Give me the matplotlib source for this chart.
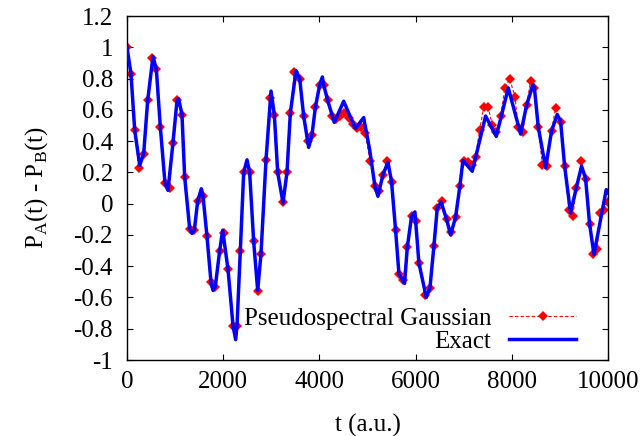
import numpy as np
import matplotlib
matplotlib.use("Agg")
import matplotlib.pyplot as plt
from matplotlib.ticker import FixedLocator, FixedFormatter

# ---- data ----
pseudo_t = [0, 83, 160, 243, 347, 430, 520, 610, 693, 790, 887, 956, 1040, 1143, 1199,
            1303, 1400, 1469, 1580, 1663, 1746, 1836, 1927, 2010, 2100, 2204, 2287, 2356,
            2426, 2550, 2633, 2717, 2786, 2890, 2980, 3063, 3133, 3236, 3326, 3396, 3479,
            3590, 3673, 3756, 3846, 3916, 4006, 4089, 4172, 4262, 4352, 4435, 4518, 4608,
            4698, 4782, 4865, 4955, 5050, 5155, 5238, 5321, 5411, 5500, 5584, 5654, 5744,
            5827, 5917, 6000, 6069, 6194, 6298, 6381, 6450, 6554, 6644, 6728, 6832, 6922,
            7005, 7095, 7170, 7248, 7330, 7420, 7511, 7594, 7680, 7767, 7857, 7954, 8065,
            8134, 8231, 8308, 8391, 8470, 8550, 8634, 8738, 8827, 8911, 9015, 9098, 9188,
            9271, 9340, 9444, 9534, 9617, 9694, 9777, 9840, 9910, 10000]
pseudo_p = [1.00, 0.83, 0.47, 0.23, 0.32, 0.66, 0.93, 0.86, 0.49, 0.13, 0.10, 0.39, 0.66,
            0.57, 0.17, -0.16, -0.17, 0.015, 0.05, -0.21, -0.50, -0.53, -0.30, -0.19, -0.42,
            -0.78, -0.78, -0.30, 0.20, 0.20, -0.24, -0.56, -0.32, 0.28, 0.675, 0.57, 0.20,
            0.01, 0.20, 0.58, 0.84, 0.80, 0.56, 0.40, 0.44, 0.615, 0.76, 0.76, 0.66, 0.56,
            0.54, 0.56, 0.58, 0.55, 0.51, 0.485, 0.49, 0.45, 0.275, 0.11, 0.08, 0.185, 0.27,
            0.14, -0.17, -0.45, -0.49, -0.28, -0.08, -0.11, -0.38, -0.585, -0.54, -0.27,
            -0.03, 0.015, -0.10, -0.18, -0.085, 0.115, 0.27, 0.265, 0.25, 0.30, 0.47, 0.62,
            0.615, 0.50, 0.46, 0.56, 0.74, 0.80, 0.685, 0.49, 0.46, 0.63, 0.785, 0.74, 0.49,
            0.25, 0.24, 0.465, 0.61, 0.525, 0.24, -0.04, -0.08, 0.10, 0.27, 0.16, -0.13,
            -0.32, -0.29, -0.06, -0.04, 0.01]

exact_t = [0, 83, 160, 265, 347, 430, 540, 610, 693, 790, 852, 956, 1040, 1074, 1143, 1199,
           1303, 1351, 1400, 1469, 1545, 1580, 1663, 1746, 1788, 1836, 1927, 1989, 2100,
           2204, 2259, 2287, 2356, 2426, 2495, 2550, 2633, 2717, 2786, 2890, 2994, 3063,
           3133, 3243, 3326, 3396, 3514, 3590, 3673, 3777, 3846, 3916, 4006, 4061, 4089,
           4172, 4310, 4505, 4747, 4920, 5045, 5155, 5217, 5321, 5425, 5500, 5584, 5654,
           5771, 5827, 5917, 5986, 6069, 6222, 6298, 6381, 6450, 6530, 6644, 6728, 6832,
           6922, 6984, 7178, 7455, 7677, 7927, 8183, 8308, 8440, 8470, 8550, 8703, 8827,
           8945, 9015, 9098, 9222, 9340, 9451, 9534, 9617, 9708, 9964, 10000]
exact_p = [1.00, 0.83, 0.47, 0.245, 0.32, 0.66, 0.94, 0.86, 0.49, 0.13, 0.085, 0.39, 0.66,
           0.67, 0.57, 0.17, -0.16, -0.19, -0.17, 0.015, 0.095, 0.05, -0.21, -0.50, -0.555,
           -0.53, -0.30, -0.17, -0.42, -0.78, -0.87, -0.78, -0.30, 0.20, 0.28, 0.20, -0.24,
           -0.555, -0.32, 0.28, 0.72, 0.57, 0.20, 0.005, 0.20, 0.58, 0.85, 0.80, 0.56, 0.36,
           0.44, 0.615, 0.76, 0.81, 0.76, 0.66, 0.52, 0.655, 0.48, 0.55, 0.345, 0.11, 0.047,
           0.185, 0.265, 0.14, -0.17, -0.45, -0.51, -0.28, -0.08, -0.053, -0.38, -0.60,
           -0.54, -0.27, -0.03, 0.01, -0.10, -0.20, -0.085, 0.115, 0.277, 0.207, 0.56, 0.43,
           0.74, 0.445, 0.63, 0.76, 0.74, 0.49, 0.23, 0.465, 0.57, 0.525, 0.24, -0.06, 0.10,
           0.24, 0.16, -0.13, -0.325, 0.09, 0.07]

x_ticks = [0, 2000, 4000, 6000, 8000, 10000]
x_ticklabels = ["0", "2000", "4000", "6000", "8000", "10000"]
y_ticks = [-1.0, -0.8, -0.6, -0.4, -0.2, 0.0, 0.2, 0.4, 0.6, 0.8, 1.0, 1.2]
y_ticklabels = ["-1", "-0.8", "-0.6", "-0.4", "-0.2", "0", "0.2", "0.4", "0.6", "0.8", "1", "1.2"]

label_pseudo = "Pseudospectral Gaussian"
label_exact = "Exact"

# ---- style ----
plt.rcParams["font.family"] = ["Liberation Serif", "DejaVu Serif"]
plt.rcParams["mathtext.fontset"] = "custom"
plt.rcParams["mathtext.rm"] = "Liberation Serif"
plt.rcParams["axes.unicode_minus"] = False
FS = 18

fig = plt.figure(figsize=(6.44, 4.36), dpi=100)
ax = fig.add_axes([127 / 644, 1 - 360 / 436, 481 / 644, 344 / 436])

ax.plot(pseudo_t, pseudo_p, color="#ff0000", linestyle=(0, (3, 2)), linewidth=0.8,
        marker="D", markersize=5.3, markeredgewidth=0, label=label_pseudo, zorder=2)
ax.plot(exact_t, exact_p, color="#0000ff", linewidth=2.5, label=label_exact, zorder=3)

ax.set_xlim(0, 10000)
ax.set_ylim(-1, 1.2)
ax.xaxis.set_major_locator(FixedLocator(x_ticks))
ax.xaxis.set_major_formatter(FixedFormatter(x_ticklabels))
ax.yaxis.set_major_locator(FixedLocator(y_ticks))
ax.yaxis.set_major_formatter(FixedFormatter(y_ticklabels))
ax.tick_params(direction="in", length=4.5, width=0.8, top=True, right=True, labelsize=FS)
ax.tick_params(axis="x", pad=8)
ax.tick_params(axis="y", pad=10)
for s in ax.spines.values():
    s.set_linewidth(1.0)

ax.set_xlabel("t (a.u.)", fontsize=FS, labelpad=15)
ax.set_ylabel(r"P$_\mathregular{A}$(t) - P$_\mathregular{B}$(t)", fontsize=FS, labelpad=17)

leg = ax.legend(loc="lower right", bbox_to_anchor=(0.95, 0.0), frameon=False,
                markerfirst=False, fontsize=FS, handlelength=2.7, handletextpad=0.7,
                labelspacing=0.0, borderaxespad=0.2, borderpad=0.1, numpoints=1)

fig.savefig("out.png", dpi=100)
